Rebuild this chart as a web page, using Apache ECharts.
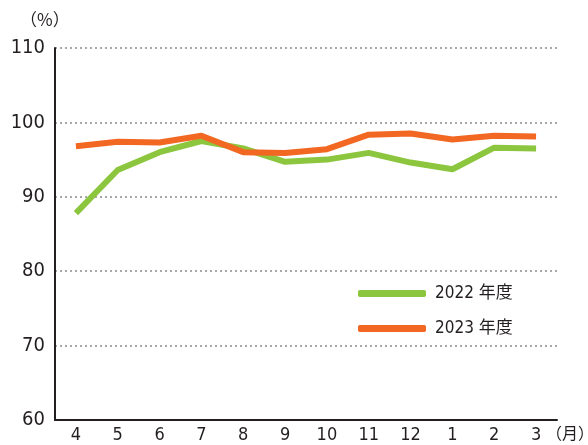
<!DOCTYPE html>
<html>
<head>
<meta charset="UTF-8">
<title></title>
<style>
  html, body { margin: 0; padding: 0; background: #fff; }
  #chart { width: 588px; height: 445px; }
</style>
<script src="https://cdn.jsdelivr.net/npm/echarts@6/dist/echarts.min.js"></script>
</head>
<body>
<div id="chart"></div>
<script>
  // 月（4月〜翌3月）
  var months = ['4', '5', '6', '7', '8', '9', '10', '11', '12', '1', '2', '3'];
  // 2022年度
  var fy2022 = [87.8, 93.6, 96.0, 97.5, 96.5, 94.7, 95.0, 95.9, 94.6, 93.7, 96.6, 96.5];
  // 2023年度
  var fy2023 = [96.8, 97.4, 97.3, 98.2, 96.0, 95.9, 96.4, 98.35, 98.5, 97.7, 98.2, 98.1];

  var textColor = '#231f20';
  var fontFam = '"DejaVu Sans Condensed", "Noto Sans CJK JP", sans-serif';
  var cjkFam = '"Noto Sans CJK JP", sans-serif';

  var chart = echarts.init(document.getElementById('chart'));
  chart.setOption({
    animation: false,
    grid: { left: 55, right: 31, top: 48, bottom: 25 },
    legend: {
      orient: 'vertical',
      left: 353,
      top: 280,
      itemWidth: 68,
      itemHeight: 7,
      itemGap: 18,
      icon: 'roundRect',
      textStyle: { color: textColor, fontSize: 17, fontFamily: fontFam, padding: [0, 0, 0, 4] },
      data: ['2022 年度', '2023 年度']
    },
    graphic: [
      { type: 'text', left: 20, top: 11, style: { text: '（%）', fontSize: 17, fill: textColor, fontFamily: cjkFam } },
      { type: 'text', left: 546, top: 425, style: { text: '（月）', fontSize: 16, fill: textColor, fontFamily: cjkFam } }
    ],
    xAxis: {
      type: 'category',
      data: months,
      boundaryGap: true,
      axisLine: { lineStyle: { color: textColor, width: 2 } },
      axisTick: { inside: true, length: 6, lineStyle: { color: textColor, width: 2 } },
      axisLabel: { color: textColor, fontSize: 18, fontFamily: fontFam, margin: 6 }
    },
    yAxis: {
      type: 'value',
      min: 60,
      max: 110,
      interval: 10,
      axisLine: { show: true, lineStyle: { color: textColor, width: 2 } },
      axisTick: { show: false },
      axisLabel: { color: textColor, fontSize: 20, fontFamily: fontFam, margin: 10 },
      splitLine: { lineStyle: { color: '#8a8a8a', type: [2, 3], width: 1.5 } }
    },
    series: [
      {
        name: '2022 年度',
        type: 'line',
        data: fy2022,
        symbol: 'none',
        color: '#8cc63f',
        lineStyle: { width: 6, color: '#8cc63f' }
      },
      {
        name: '2023 年度',
        type: 'line',
        data: fy2023,
        symbol: 'none',
        color: '#f26722',
        lineStyle: { width: 6, color: '#f26722' }
      }
    ]
  });
</script>
</body>
</html>
